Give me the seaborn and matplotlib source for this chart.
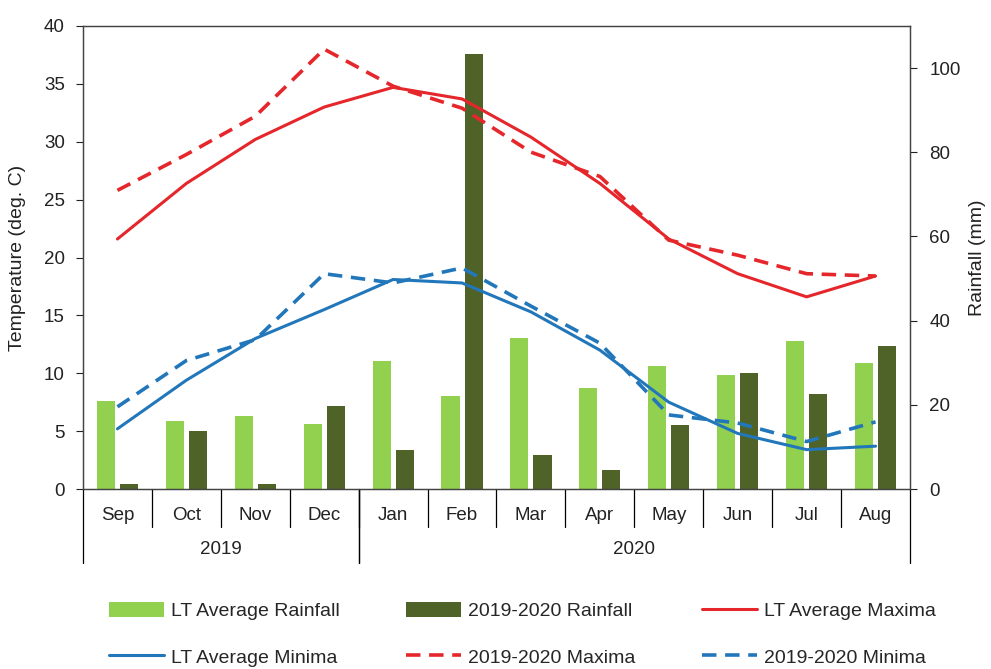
import numpy as np
import pandas as pd
import matplotlib
matplotlib.use("Agg")
import matplotlib.pyplot as plt
import matplotlib.transforms as mtransforms
from matplotlib.patches import Patch
from matplotlib.lines import Line2D
import seaborn as sns

months = ["Sep", "Oct", "Nov", "Dec", "Jan", "Feb", "Mar", "Apr", "May", "Jun", "Jul", "Aug"]
years = ["2019", "2020"]
year_spans = [(0, 3), (4, 11)]

lt_rain = [20.9, 16.2, 17.4, 15.4, 30.4, 22.2, 35.9, 24.1, 29.2, 27.2, 35.1, 30.0]
cur_rain = [1.3, 13.8, 1.3, 19.8, 9.2, 103.3, 8.0, 4.5, 15.1, 27.6, 22.6, 34.0]

lt_max = [21.6, 26.4, 30.2, 33.0, 34.7, 33.7, 30.4, 26.4, 21.6, 18.6, 16.6, 18.4]
cur_max = [25.8, 28.9, 32.2, 38.0, 34.8, 32.9, 29.1, 27.0, 21.5, 20.2, 18.6, 18.4]
lt_min = [5.2, 9.4, 13.0, 15.5, 18.1, 17.8, 15.3, 12.0, 7.5, 4.8, 3.4, 3.7]
cur_min = [7.1, 11.1, 12.9, 18.6, 17.8, 19.1, 15.8, 12.6, 6.4, 5.7, 4.1, 5.8]

rain_labels = ["LT Average Rainfall", "2019-2020 Rainfall"]

sns.set_theme(style="white")
plt.rcParams["font.family"] = ["Liberation Sans", "DejaVu Sans"]

LGREEN = "#92D050"
DGREEN = "#4F6228"
RED = "#E5262B"
BLUE = "#2277BB"
TXT = "#222222"
TICK_FS = 13.5
LAB_FS = 14

fig = plt.figure(figsize=(9.91, 6.69), dpi=100)
ax = fig.add_axes([83 / 991, 1 - 489 / 669, (910 - 83) / 991, (489 - 26) / 669])
ax2 = ax.twinx()

rain_df = pd.DataFrame({
    "month": months * 2,
    "rain": lt_rain + cur_rain,
    "series": [rain_labels[0]] * 12 + [rain_labels[1]] * 12,
})
sns.barplot(data=rain_df, x="month", y="rain", hue="series", order=months,
            palette=[LGREEN, DGREEN], width=0.67, gap=0.22, ax=ax2,
            legend=False, saturation=1, edgecolor="none", linewidth=0)

xs = np.arange(len(months))
dash = (4.0, 2.4)
sns.lineplot(x=xs, y=lt_max, ax=ax, color=RED, linewidth=2.2, sort=False)
sns.lineplot(x=xs, y=cur_max, ax=ax, color=RED, linewidth=2.6, sort=False)
sns.lineplot(x=xs, y=lt_min, ax=ax, color=BLUE, linewidth=2.2, sort=False)
sns.lineplot(x=xs, y=cur_min, ax=ax, color=BLUE, linewidth=2.6, sort=False)
ax.lines[1].set_dashes(dash)
ax.lines[3].set_dashes(dash)

ax.set_zorder(ax2.get_zorder() + 1)
ax.patch.set_visible(False)

ax.set_xlim(-0.5, 11.5)
ax.set_ylim(0, 40)
ax2.set_ylim(0, 110)
ax.set_yticks(range(0, 41, 5))
ax2.set_yticks(range(0, 101, 20))
ax.set_xticks(xs)
ax.set_xticklabels(months)
ax.tick_params(axis="x", length=0, pad=13, labelsize=TICK_FS, colors=TXT)
ax.tick_params(axis="y", length=5, width=0.8, direction="out", left=True,
               labelsize=TICK_FS, colors=TXT, pad=8)
ax2.tick_params(axis="y", length=5, width=0.8, direction="out", right=True,
                labelsize=TICK_FS, colors=TXT, pad=9)
ax2.set_xlabel("")
ax2.set_ylabel("Rainfall (mm)", fontsize=LAB_FS, color=TXT)
ax.set_ylabel("Temperature (deg. C)", fontsize=LAB_FS, color=TXT)
ax.yaxis.set_label_coords(-0.069, 0.5)
ax2.yaxis.set_label_coords(1.071, 0.5)
ax.set_xlabel("")
for a in (ax, ax2):
    for s in a.spines.values():
        s.set_color("#444444")
        s.set_linewidth(0.9)
        s.set_visible(True)

trans = mtransforms.blended_transform_factory(ax.transData, ax.transAxes)
for i in range(1, len(months)):
    ax.plot([i - 0.5, i - 0.5], [0, -0.082], transform=trans, color="black",
            linewidth=0.9, clip_on=False)
for (a, b), yr in zip(year_spans, years):
    for edge in (a - 0.5, b + 0.5):
        ax.plot([edge, edge], [0, -0.16], transform=trans, color="black",
                linewidth=0.9, clip_on=False)
    ax.text((a + b) / 2, -0.131, yr, transform=trans, ha="center", va="center",
            fontsize=TICK_FS, color=TXT)

handles = [
    Patch(facecolor=LGREEN, edgecolor="none"),
    Line2D([], [], color=BLUE, linewidth=2.2),
    Patch(facecolor=DGREEN, edgecolor="none"),
    Line2D([], [], color=RED, linewidth=2.6, dashes=dash),
    Line2D([], [], color=RED, linewidth=2.2),
    Line2D([], [], color=BLUE, linewidth=2.6, dashes=dash),
]
labels = ["LT Average Rainfall", "LT Average Minima", "2019-2020 Rainfall",
          "2019-2020 Maxima", "LT Average Maxima", "2019-2020 Minima"]
fig.legend(handles, labels, ncol=3, loc="center", bbox_to_anchor=(0.527, 0.052),
           frameon=False, fontsize=LAB_FS, handlelength=2.85, handleheight=0.8,
           handletextpad=0.35, columnspacing=3.4, labelspacing=1.45,
           borderpad=0.2)

fig.savefig("out.png", dpi=100)
